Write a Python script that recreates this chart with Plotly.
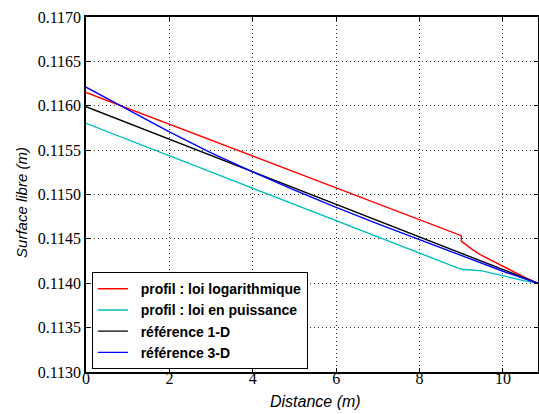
import plotly.graph_objects as go

# Data
x_log = [0.0, 9.0, 9.0, 9.25, 9.5, 9.75, 10.0, 10.25, 10.5, 10.84]
y_log = [0.11615, 0.114536, 0.114475, 0.114385, 0.11431, 0.11425, 0.114185, 0.11413, 0.114072, 0.1140]

x_pow = [0.0, 9.0, 9.25, 9.5, 9.75, 10.0, 10.25, 10.5, 10.84]
y_pow = [0.115802, 0.114157, 0.11415, 0.11414, 0.114112, 0.114082, 0.114058, 0.11403, 0.1140]

x_ref1d = [0.0, 10.84]
y_ref1d = [0.11599, 0.1140]

x_ref3d = [0.0, 1.0, 2.0, 3.0, 4.0, 5.0, 6.0, 7.0, 8.0, 9.0, 10.0, 10.84]
y_ref3d = [0.11621, 0.115955, 0.115705, 0.11547, 0.115255, 0.11505, 0.114855, 0.11467, 0.114492, 0.11431, 0.114135, 0.1140]

x_ticks = [0, 2, 4, 6, 8, 10]
y_ticks = [0.1130, 0.1135, 0.1140, 0.1145, 0.1150, 0.1155, 0.1160, 0.1165, 0.1170]
y_ticklabels = ["0.1130", "0.1135", "0.1140", "0.1145", "0.1150", "0.1155", "0.1160", "0.1165", "0.1170"]

series = [
    ("profil : loi logarithmique", x_log, y_log, "#ff0000"),
    ("profil : loi en puissance", x_pow, y_pow, "#00bfbf"),
    ("référence 1-D", x_ref1d, y_ref1d, "#000000"),
    ("référence 3-D", x_ref3d, y_ref3d, "#0000ff"),
]

fig = go.Figure()
for name, xs, ys, col in series:
    fig.add_trace(go.Scatter(x=xs, y=ys, mode="lines",
                             name="\u00a0\u00a0<b>" + name + "</b>",
                             line=dict(color=col, width=1.4)))

axis_common = dict(
    showline=True, linecolor="black", linewidth=1.5, mirror="allticks",
    ticks="inside", ticklen=4, tickcolor="black",
    showgrid=True, gridcolor="#333333", griddash="1px,3px", gridwidth=1,
    zeroline=False, automargin=False,
    tickfont=dict(family="Liberation Serif, Times New Roman, serif", size=16, color="black"),
)

fig.update_xaxes(range=[0, 10.84], tickvals=x_ticks, ticktext=[str(t) for t in x_ticks],
                 ticklabelposition="outside", ticklabelstandoff=-9, **axis_common)
fig.update_yaxes(range=[0.1130, 0.1170], tickvals=y_ticks, ticktext=y_ticklabels,
                 **axis_common)

fig.add_annotation(text="<i>Distance (m)</i>", xref="paper", yref="paper",
                   x=0.508, y=-0.0845, xanchor="center", yanchor="middle", showarrow=False,
                   font=dict(family="Liberation Sans", size=16, color="black"))
fig.add_annotation(text="<i>Surface libre (m)</i>", xref="paper", yref="paper",
                   x=-0.1416, y=0.479, xanchor="center", yanchor="middle", showarrow=False,
                   textangle=-90,
                   font=dict(family="Liberation Sans", size=15, color="black"))

fig.update_layout(
    width=539, height=414,
    margin=dict(l=86, r=1, t=17, b=42),
    paper_bgcolor="white", plot_bgcolor="white",
    showlegend=True,
    legend=dict(x=0.013, y=0.008, xanchor="left", yanchor="bottom",
                bgcolor="white", bordercolor="black", borderwidth=1,
                font=dict(family="Liberation Sans", size=14, color="black"),
                tracegroupgap=0),
)

fig.write_html("out.html", config={"displayModeBar": False},
               post_script="document.body.style.margin='0';document.body.style.padding='0';")
